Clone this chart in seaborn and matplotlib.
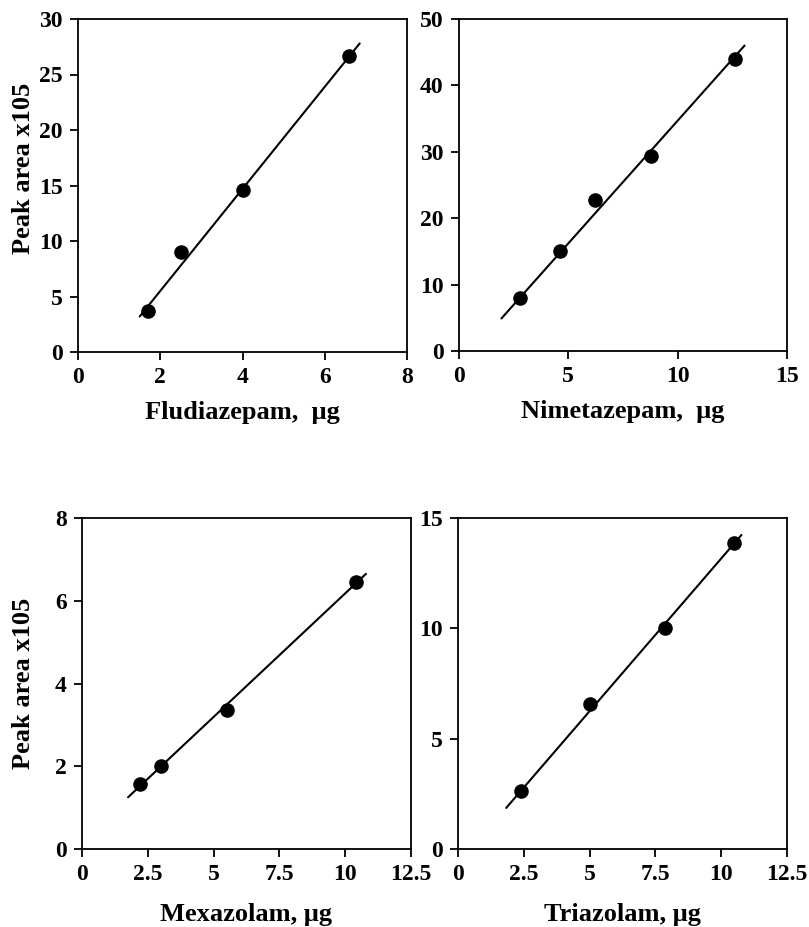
import numpy as np
import pandas as pd
import matplotlib
matplotlib.use("Agg")
import matplotlib.pyplot as plt
import seaborn as sns

sns.set_style("ticks")
plt.rcParams['font.family'] = ['Liberation Serif', 'DejaVu Serif']
plt.rcParams['font.weight'] = 'bold'
plt.rcParams['text.color'] = 'black'
plt.rcParams['axes.labelcolor'] = 'black'
plt.rcParams['xtick.color'] = 'black'
plt.rcParams['ytick.color'] = 'black'

# valores
flu_x = [1.7, 2.5, 4.0, 6.6]
flu_y = [3.7, 9.0, 14.6, 26.7]
flu_fit_x = [1.5, 6.85]
flu_fit_y = [3.2, 27.8]

nim_x = [2.8, 4.6, 6.2, 8.8, 12.6]
nim_y = [8.0, 15.1, 22.8, 29.4, 44.0]
nim_fit_x = [1.94, 13.06]
nim_fit_y = [4.9, 46.0]

mex_x = [2.2, 3.0, 5.5, 10.4]
mex_y = [1.57, 2.0, 3.37, 6.45]
mex_fit_x = [1.75, 10.79]
mex_fit_y = [1.25, 6.65]

tri_x = [2.4, 5.0, 7.85, 10.5]
tri_y = [2.65, 6.55, 10.0, 13.85]
tri_fit_x = [1.83, 10.77]
tri_fit_y = [1.86, 14.23]

W, H = 809, 927

def eixo(fig, esq, topo, larg, alt):
    return fig.add_axes([esq / W, 1 - (topo + alt) / H, larg / W, alt / H])

def painel(ax, x, y, fx, fy, xlabel, xticks, xlim, yticks, ylim, ylabel, labelpad):
    df = pd.DataFrame({'x': x, 'y': y})
    fit = pd.DataFrame({'x': fx, 'y': fy})
    sns.lineplot(data=fit, x='x', y='y', ax=ax, color='black', linewidth=1.5)
    sns.scatterplot(data=df, x='x', y='y', ax=ax, color='black', s=110,
                    edgecolor='black', linewidth=0, zorder=3)
    ax.set_xlim(xlim)
    ax.set_ylim(ylim)
    ax.set_xticks(xticks)
    ax.set_yticks(yticks)
    ax.set_xticklabels([f"{t:g}" for t in xticks])
    ax.set_xlabel(xlabel, fontsize=19, fontweight='bold', labelpad=labelpad)
    if ylabel:
        ax.set_ylabel(ylabel, fontsize=19, fontweight='bold')
    else:
        ax.set_ylabel('')
    ax.tick_params(direction='out', length=6, width=1.3, labelsize=17,
                   top=False, right=False, pad=5, colors='black')
    for lab in ax.get_xticklabels() + ax.get_yticklabels():
        lab.set_fontweight('bold')
    for s in ax.spines.values():
        s.set_linewidth(1.3)
        s.set_color('black')

fig = plt.figure(figsize=(W / 100, H / 100), dpi=100)

ax1 = eixo(fig, 78, 19, 329, 333)
painel(ax1, flu_x, flu_y, flu_fit_x, flu_fit_y, 'Fludiazepam,  μg',
       [0, 2, 4, 6, 8], (0, 8), [0, 5, 10, 15, 20, 25, 30], (0, 30), 'Peak area x105', 9)
ax1.yaxis.set_label_coords(-0.131, 0.55)

ax2 = eixo(fig, 459, 19, 328, 332)
painel(ax2, nim_x, nim_y, nim_fit_x, nim_fit_y, 'Nimetazepam,  μg',
       [0, 5, 10, 15], (0, 15), [0, 10, 20, 30, 40, 50], (0, 50), None, 9)

ax3 = eixo(fig, 82, 518, 329, 331)
painel(ax3, mex_x, mex_y, mex_fit_x, mex_fit_y, 'Mexazolam, μg',
       [0, 2.5, 5, 7.5, 10, 12.5], (0, 12.5), [0, 2, 4, 6, 8], (0, 8), 'Peak area x105', 13)
ax3.yaxis.set_label_coords(-0.143, 0.5)

ax4 = eixo(fig, 458, 518, 329, 331)
painel(ax4, tri_x, tri_y, tri_fit_x, tri_fit_y, 'Triazolam, μg',
       [0, 2.5, 5, 7.5, 10, 12.5], (0, 12.5), [0, 5, 10, 15], (0, 15), None, 13)

fig.savefig('out.png', dpi=100)
